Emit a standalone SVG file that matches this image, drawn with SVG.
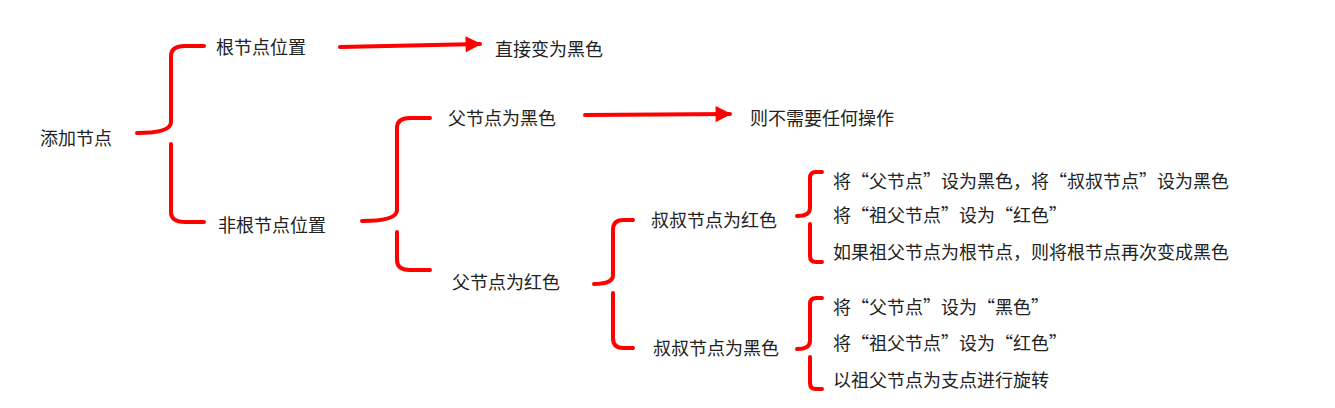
<svg xmlns="http://www.w3.org/2000/svg" width="1335" height="408" viewBox="0 0 1335 408">
<defs>
<style>
text{font-family:"Noto Sans CJK SC","Noto Sans",sans-serif;font-size:18px;fill:#222}
.b{fill:none;stroke:#f00;stroke-width:4;stroke-linecap:round;stroke-linejoin:round}
</style>
<marker id="ah" viewBox="0 0 10 10" refX="9" refY="5" markerWidth="5" markerHeight="4" orient="auto" markerUnits="strokeWidth"><path d="M0,0L10,5L0,10z" fill="#f00"/></marker>
</defs>
<rect width="1335" height="408" fill="#fff"/>
<g id="connectors">
<path class="b" d="M137,133 Q171,133 171,122 L171,56 Q171,46 185,46 L204,46 M171,144 L171,212 Q171,222 185,222 L204,222"/>
<path class="b" d="M362,221 Q397,221 397,210 L397,128 Q397,118 410,118 L430,118 M397,232 L397,260 Q397,270 410,270 L430,270"/>
<path class="b" d="M594,284 Q613,284 613,275 L613,230 Q613,220 623,220 L633,220 M613,293 L613,338 Q613,348 623,348 L633,348"/>
<path class="b" d="M797,216 Q810,216 810,208 L810,178 Q810,172 816,172 L822,172 M810,224 L810,256 Q810,262 816,262 L822,262"/>
<path class="b" d="M797,349 Q810,349 810,341 L810,304 Q810,298 816,298 L822,298 M810,357 L810,383 Q810,389 816,389 L822,389"/>
<line class="b" x1="340" y1="47" x2="480" y2="44" marker-end="url(#ah)"/>
<line class="b" x1="585" y1="115" x2="730" y2="114" marker-end="url(#ah)"/>
</g>
<g id="n0"><text x="40" y="145">添加节点</text></g>
<g id="n1"><text x="216" y="54">根节点位置</text></g>
<g id="n2"><text x="495" y="56">直接变为黑色</text></g>
<g id="n3"><text x="218" y="232">非根节点位置</text></g>
<g id="n4"><text x="448" y="125">父节点为黑色</text></g>
<g id="n5"><text x="750" y="125">则不需要任何操作</text></g>
<g id="n6"><text x="452" y="289">父节点为红色</text></g>
<g id="n7"><text x="651" y="227">叔叔节点为红色</text></g>
<g id="n8"><text x="653" y="355">叔叔节点为黑色</text></g>
<g id="n9"><text x="833" y="188">将“父节点”设为黑色，将“叔叔节点”设为黑色</text></g>
<g id="n10"><text x="833" y="222">将“祖父节点”设为“红色”</text></g>
<g id="n11"><text x="833" y="259">如果祖父节点为根节点，则将根节点再次变成黑色</text></g>
<g id="n12"><text x="833" y="314">将“父节点”设为“黑色”</text></g>
<g id="n13"><text x="833" y="350">将“祖父节点”设为“红色”</text></g>
<g id="n14"><text x="833" y="387">以祖父节点为支点进行旋转</text></g>
</svg>
